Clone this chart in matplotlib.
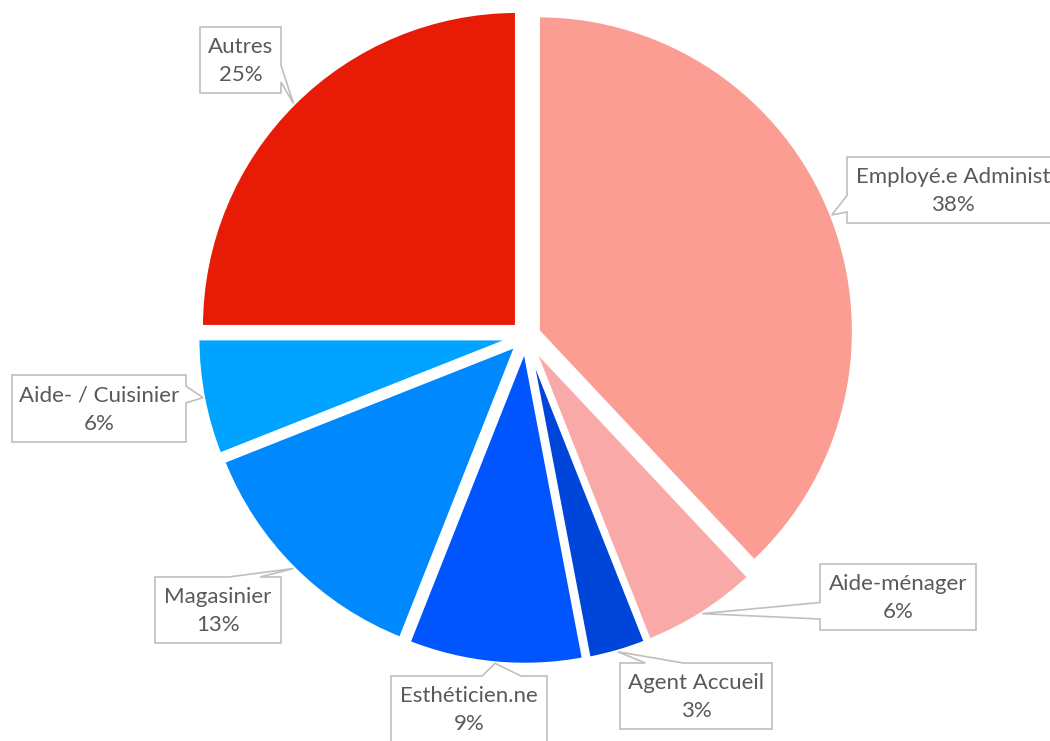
import numpy as np
import matplotlib.pyplot as plt
from matplotlib.path import Path
from matplotlib.patches import PathPatch

# data
categories = ['Employé.e Administ', 'Aide-ménager', 'Agent Accueil', 'Esthéticien.ne',
              'Magasinier', 'Aide- / Cuisinier', 'Autres']
shares = [38, 6, 3, 9, 13, 6, 25]
colors = ['#FB9D93', '#F9A9A7', '#0045DA', '#0055FF', '#0089FF', '#00A3FF', '#E81C06']

# label boxes in pixel coords (x0, y0, x1, y1, side of the tail)
boxes = [(847, 157, 1059, 223, 'left'),
         (820, 564, 976, 630, 'left'),
         (620, 663, 772, 729, 'top'),
         (391, 676, 547, 742, 'top'),
         (155, 577, 281, 643, 'top'),
         (12, 375, 186, 442, 'right'),
         (200, 27, 281, 93, 'right')]

fig = plt.figure(figsize=(10.5, 7.41), dpi=100)
ax = fig.add_axes([0, 0, 1, 1])

# explode is in data units (pixels here)
wedges, _ = ax.pie(shares, colors=colors, startangle=-90, counterclock=True,
                   explode=[12.8] * len(shares), radius=316, center=(526, 336),
                   wedgeprops=dict(edgecolor='white', linewidth=2.9))
ax.set_xlim(0, 1050)
ax.set_ylim(741, 0)
ax.axis('off')


def callout(x0, y0, x1, y1, side, tip):
    w, h = x1 - x0, y1 - y0
    cx, cy = (x0 + x1) / 2, (y0 + y1) / 2
    if side in ('left', 'right'):
        g = (7, 10) if tip[1] > cy else (2, 5)
        b1, b2 = y0 + h * g[0] / 12, y0 + h * g[1] / 12
        if side == 'right':
            pts = [(x0, y0), (x1, y0), (x1, b1), tip, (x1, b2), (x1, y1), (x0, y1)]
        else:
            pts = [(x0, y0), (x1, y0), (x1, y1), (x0, y1), (x0, b2), tip, (x0, b1)]
    else:
        g = (7, 10) if tip[0] > cx else (2, 5)
        b1, b2 = x0 + w * g[0] / 12, x0 + w * g[1] / 12
        pts = [(x0, y0), (b1, y0), tip, (b2, y0), (x1, y0), (x1, y1), (x0, y1)]
    pts.append(pts[0])
    codes = [Path.MOVETO] + [Path.LINETO] * (len(pts) - 2) + [Path.CLOSEPOLY]
    ax.add_patch(PathPatch(Path(pts, codes), facecolor='white', edgecolor='#BFBFBF',
                           linewidth=1.2, zorder=5))


for wd, name, val, (x0, y0, x1, y1, side) in zip(wedges, categories, shares, boxes):
    mid = np.deg2rad((wd.theta1 + wd.theta2) / 2)
    tip = (wd.center[0] + wd.r * np.cos(mid), wd.center[1] + wd.r * np.sin(mid))
    callout(x0, y0, x1, y1, side, tip)
    ax.text((x0 + x1) / 2, (y0 + y1) / 2 + 1, f'{name}\n{val}%', ha='center', va='center',
            fontsize=16, family='Lato', color='#595959', linespacing=1.55, zorder=6)

plt.savefig('out.png', dpi=100)
